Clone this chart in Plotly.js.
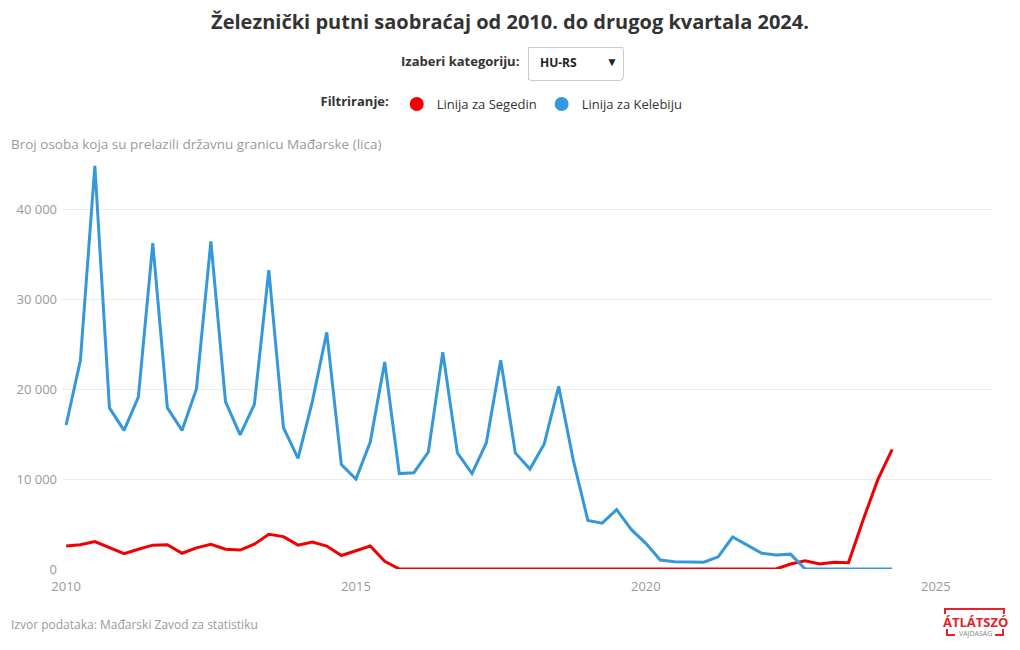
<!DOCTYPE html>
<html>
<head>
<meta charset="utf-8">
<script src="https://cdn.plot.ly/plotly-3.0.1.min.js"></script>
<style>
  html, body { margin: 0; padding: 0; background: #ffffff; }
  #chart { width: 1020px; height: 650px; }
</style>
</head>
<body>
<div id="chart"></div>
<script>
// Quarters (start date of each quarter), 2010 Q1 – 2024 Q2
const quarters = [
  "2010-01","2010-04","2010-07","2010-10",
  "2011-01","2011-04","2011-07","2011-10",
  "2012-01","2012-04","2012-07","2012-10",
  "2013-01","2013-04","2013-07","2013-10",
  "2014-01","2014-04","2014-07","2014-10",
  "2015-01","2015-04","2015-07","2015-10",
  "2016-01","2016-04","2016-07","2016-10",
  "2017-01","2017-04","2017-07","2017-10",
  "2018-01","2018-04","2018-07","2018-10",
  "2019-01","2019-04","2019-07","2019-10",
  "2020-01","2020-04","2020-07","2020-10",
  "2021-01","2021-04","2021-07","2021-10",
  "2022-01","2022-04","2022-07","2022-10",
  "2023-01","2023-04","2023-07","2023-10",
  "2024-01","2024-04"
];

// Linija za Segedin (red)
const segedin = [
  2550, 2700, 3050, 2350,
  1700, 2200, 2650, 2700,
  1750, 2350, 2750, 2200,
  2100, 2750, 3850, 3600,
  2650, 3000, 2550, 1500,
  2000, 2550, 850, 0,
  0, 0, 0, 0,
  0, 0, 0, 0,
  0, 0, 0, 0,
  0, 0, 0, 0,
  0, 0, 0, 0,
  0, 0, 0, 0,
  0, 0, 550, 900,
  550, 750, 700, 5450,
  9900, 13300
];

// Linija za Kelebiju (blue)
const kelebija = [
  16000, 23200, 44800, 17900,
  15400, 19100, 36200, 17900,
  15400, 20000, 36400, 18600,
  14900, 18300, 33200, 15700,
  12300, 18600, 26300, 11600,
  10000, 14100, 23000, 10600,
  10700, 13000, 24100, 12900,
  10600, 14000, 23200, 12900,
  11100, 13900, 20300, 12100,
  5400, 5100, 6600, 4400,
  2850, 1000, 800, 750,
  750, 1350, 3550, 2650,
  1750, 1550, 1650, 0,
  0, 0, 0, 0,
  0, 0
];

const seriesNames = ["Linija za Segedin", "Linija za Kelebiju"];
const xTickVals = ["2010-01-01", "2015-01-01", "2020-01-01", "2025-01-01"];
const xTickText = ["2010", "2015", "2020", "2025"];
const yTickVals = [0, 10000, 20000, 30000, 40000];
const categories = ["HU-RS"];

const RED = "#f00000";
const BLUE = "#3498db";
const FONT = "Open Sans, Lato, sans-serif";
const GRAY = "#9a9a9a";

// plot area geometry (px) for paper conversions
const L = 62, R = 28, T = 155, B = 81, W = 1020, H = 650;
const pw = W - L - R, ph = H - T - B;
const px = x => (x - L) / pw;
const py = y => (H - B - y) / ph;

const traces = [
  {
    x: quarters, y: segedin, type: "scatter", mode: "lines",
    name: seriesNames[0], legendgroup: "seg", showlegend: false,
    line: { color: RED, width: 3 },
    hovertemplate: "%{y:,}<extra>" + seriesNames[0] + "</extra>"
  },
  {
    x: quarters, y: kelebija, type: "scatter", mode: "lines",
    name: seriesNames[1], legendgroup: "kel", showlegend: false,
    line: { color: BLUE, width: 3 },
    hovertemplate: "%{y:,}<extra>" + seriesNames[1] + "</extra>"
  },
  // legend-only entries drawn as circles
  {
    x: [null], y: [null], type: "scatter", mode: "markers",
    name: seriesNames[0], legendgroup: "seg",
    marker: { color: RED, size: 14, symbol: "circle" }
  },
  {
    x: [null], y: [null], type: "scatter", mode: "markers",
    name: seriesNames[1], legendgroup: "kel",
    marker: { color: BLUE, size: 14, symbol: "circle" }
  }
];

const layout = {
  width: W, height: H,
  margin: { l: L, r: R, t: T, b: B, pad: 0 },
  paper_bgcolor: "#ffffff",
  plot_bgcolor: "#ffffff",
  separators: ". ",
  font: { family: FONT, size: 13, color: "#333333" },
  title: {
    text: "<b>Železnički putni saobraćaj od 2010. do drugog kvartala 2024.</b>",
    font: { family: FONT, size: 20, color: "#333333" },
    x: 0.5, xref: "container", xanchor: "center",
    y: 1 - 22 / H, yref: "container", yanchor: "middle"
  },
  showlegend: true,
  legend: {
    orientation: "h",
    x: px(503), xanchor: "center",
    y: py(104), yanchor: "middle",
    font: { family: FONT, size: 13, color: "#333333" },
    title: { text: "<b>Filtriranje:</b>", font: { family: FONT, size: 13, color: "#333333" }, side: "left" },
    itemclick: "toggle",
    bgcolor: "rgba(0,0,0,0)",
    tracegroupgap: 0
  },
  xaxis: {
    type: "date",
    range: ["2009-12-06", "2025-12-21"],
    tickvals: xTickVals,
    ticktext: xTickText,
    showgrid: false,
    zeroline: false,
    showline: false,
    ticks: "",
    ticklabelstandoff: 8,
    tickfont: { family: FONT, size: 13, color: GRAY },
    fixedrange: true
  },
  yaxis: {
    range: [0, 46000],
    tickvals: yTickVals,
    tickformat: ",d",
    showgrid: true,
    gridcolor: "#ececec",
    gridwidth: 1,
    zeroline: false,
    showline: false,
    ticks: "",
    ticklabelstandoff: 4,
    tickfont: { family: FONT, size: 13, color: GRAY },
    fixedrange: true
  },
  updatemenus: [{
    type: "dropdown",
    direction: "down",
    x: px(527), xanchor: "left",
    y: py(46), yanchor: "top",
    pad: { l: 0, r: 0, t: 0, b: 0 },
    bgcolor: "#ffffff",
    bordercolor: "#cccccc",
    borderwidth: 1,
    font: { family: FONT, size: 12, color: "#222222" },
    showactive: true,
    active: 0,
    buttons: categories.map(c => ({ label: "<b>" + c + "</b>\u2003\u2002", method: "skip", args: [] }))
  }],
  annotations: [
    {
      text: "<b>Izaberi kategoriju:</b>",
      xref: "paper", yref: "paper",
      x: px(521), y: py(61), xanchor: "right", yanchor: "middle",
      showarrow: false, font: { family: FONT, size: 13, color: "#333333" }
    },
    {
      text: "Broj osoba koja su prelazili državnu granicu Mađarske (lica)",
      xref: "paper", yref: "paper",
      x: px(9), y: py(144), xanchor: "left", yanchor: "middle",
      showarrow: false, font: { family: FONT, size: 13.5, color: GRAY }
    },
    {
      text: "Izvor podataka: Mađarski Zavod za statistiku",
      xref: "paper", yref: "paper",
      x: px(9), y: py(624), xanchor: "left", yanchor: "middle",
      showarrow: false, font: { family: FONT, size: 12, color: GRAY }
    },
    {
      text: "<b>ÁTLÁTSZÓ</b>",
      xref: "paper", yref: "paper",
      x: px(975), y: py(622), xanchor: "center", yanchor: "middle",
      showarrow: false, font: { family: FONT, size: 13, color: "#e3242b" }
    },
    {
      text: "VAJDASÁG",
      xref: "paper", yref: "paper",
      x: px(975), y: py(633), xanchor: "center", yanchor: "middle",
      showarrow: false, font: { family: FONT, size: 7, color: "#888888" }
    }
  ],
  shapes: [
    // logo brackets
    { type: "path", xref: "paper", yref: "paper",
      path: `M ${px(945)} ${py(614)} L ${px(945)} ${py(609)} L ${px(1004)} ${py(609)} L ${px(1004)} ${py(614)}`,
      line: { color: "#e3242b", width: 2 } },
    { type: "path", xref: "paper", yref: "paper",
      path: `M ${px(947)} ${py(629)} L ${px(947)} ${py(635)} L ${px(955)} ${py(635)}`,
      line: { color: "#e3242b", width: 2 } },
    { type: "path", xref: "paper", yref: "paper",
      path: `M ${px(995)} ${py(635)} L ${px(1003)} ${py(635)} L ${px(1003)} ${py(629)}`,
      line: { color: "#e3242b", width: 2 } }
  ],
  hovermode: "x unified"
};

Plotly.newPlot("chart", traces, layout, { displayModeBar: false, responsive: false });
</script>
</body>
</html>
